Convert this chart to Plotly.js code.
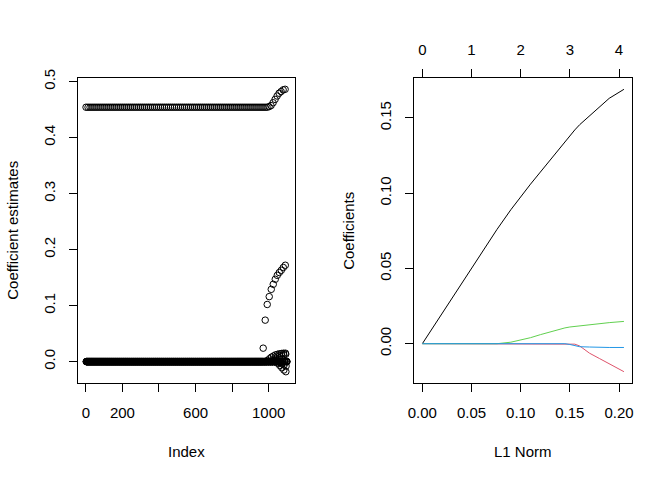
<!DOCTYPE html>
<html>
<head>
<meta charset="utf-8">
<script src="https://cdn.plot.ly/plotly-3.0.1.min.js"></script>
<style>
  html, body { margin: 0; padding: 0; background: #fff; }
  #myDiv { width: 672px; height: 480px; }
</style>
</head>
<body>
<div id="myDiv"></div>
<script>
// left panel: coefficient matrix (intercept + 10 coefs) x 100 lambdas, flattened column-wise
const nRows = 11;
const nCols = 100;
const interceptFlat = 0.454;          // cols 1..91
const interceptTail = [0.455, 0.457, 0.462, 0.468, 0.474, 0.479, 0.482, 0.485, 0.486];   // cols 92..100
const coef1Tail = [0.024, 0.074, 0.102, 0.116, 0.129, 0.138, 0.147, 0.154, 0.159, 0.163, 0.168, 0.172]; // cols 89..100
const coef2Tail = [0.002, 0.005, 0.008, 0.010, 0.012, 0.013, 0.014, 0.0145, 0.015, 0.015];  // cols 91..100
const coef3Tail = [0.003, 0.006, 0.008, 0.010, 0.011, 0.012, 0.013];                         // cols 94..100
const coef4Tail = [-0.003, -0.007, -0.011, -0.015, -0.018];                                  // cols 96..100
const coef5Tail = [-0.002, -0.004, -0.006, -0.008];                                          // cols 97..100

// right panel: lasso path
const l1Norm    = [0, 0.02, 0.04, 0.06, 0.076, 0.09, 0.10, 0.11, 0.12, 0.13, 0.14, 0.145, 0.15, 0.155, 0.16, 0.17, 0.18, 0.19, 0.205];
const coefBlack = [0, 0.02, 0.04, 0.06, 0.076, 0.089, 0.0977, 0.106, 0.114, 0.122, 0.130, 0.1345, 0.1387, 0.142, 0.1455, 0.1515, 0.157, 0.163, 0.169];
const coefRed   = [0, 0, 0, 0, 0, 0, 0, 0, 0, 0, 0, 0, 0, -0.0003, -0.0015, -0.0063, -0.0098, -0.0134, -0.0186];
const coefGreen = [0, 0, 0, 0, 0, 0.001, 0.0023, 0.004, 0.006, 0.008, 0.0098, 0.0105, 0.0111, 0.0115, 0.0118, 0.0125, 0.0133, 0.014, 0.0148];
const coefBlue  = [0, 0, 0, 0, 0, 0, 0, 0, 0, 0, 0, 0, -0.0005, -0.0015, -0.002, -0.0022, -0.0025, -0.0025, -0.0025];
const dfLabels  = ['0', '1', '2', '3', '4'];
const l1Ticks   = [0, 0.05, 0.10, 0.15, 0.20];

function tailValue(tail, col) {
    let start = nCols - tail.length + 1;
    return col >= start ? tail[col - start] : 0;
}

function buildMatrix() {
    let vals = [];
    for (let col = 1; col <= nCols; col++) {
        let column = new Array(nRows).fill(0);
        column[0] = col < nCols - interceptTail.length + 1 ? interceptFlat : tailValue(interceptTail, col);
        column[1] = tailValue(coef1Tail, col);
        column[2] = tailValue(coef2Tail, col);
        column[3] = tailValue(coef3Tail, col);
        column[4] = tailValue(coef4Tail, col);
        column[5] = tailValue(coef5Tail, col);
        vals.push(...column);
    }
    return vals;
}

// R-style range, 4% padding
function padRange(arr) {
    let lo = Math.min(...arr), hi = Math.max(...arr);
    let d = (hi - lo) * 0.04;
    return [lo - d, hi + d];
}

const estimates = buildMatrix();
const index = estimates.map((v, i) => i + 1);
const allCoefs = coefBlack.concat(coefRed, coefGreen, coefBlue);

const font = {family: 'Liberation Sans, Arial, sans-serif', size: 15, color: '#000'};

const boxAxis = {
    showline: true, mirror: true, linecolor: '#000', linewidth: 1,
    ticks: 'outside', ticklen: 8, tickcolor: '#000', tickwidth: 1,
    showgrid: false, zeroline: false, tickfont: font,
    ticklabelstandoff: 8
};

function line(y, color) {
    return {
        x: l1Norm, y: y, xaxis: 'x2', yaxis: 'y2',
        mode: 'lines', line: {color: color, width: 1}, hoverinfo: 'skip'
    };
}

const data = [
    {
        x: index, y: estimates, mode: 'markers',
        marker: {symbol: 'circle-open', size: 6.5, color: '#000', line: {width: 1, color: '#000'}},
        hoverinfo: 'skip'
    },
    line(coefBlack, '#000000'),
    line(coefRed, '#DF536B'),
    line(coefGreen, '#61D04F'),
    line(coefBlue, '#2297E6'),
    {x: l1Ticks, y: l1Ticks.map(() => null), xaxis: 'x3', yaxis: 'y2', mode: 'markers', hoverinfo: 'skip'}
];

function axisTitle(text, x, y, angle, xshift, yshift) {
    return {
        text: text, xref: 'paper', yref: 'paper', x: x, y: y,
        xanchor: 'center', yanchor: 'middle', textangle: angle,
        xshift: xshift, yshift: yshift, showarrow: false, font: font
    };
}

const layout = {
    width: 672, height: 480,
    margin: {l: 78, r: 40, t: 78, b: 97},
    paper_bgcolor: '#fff', plot_bgcolor: '#fff',
    showlegend: false,
    font: font,
    xaxis: Object.assign({}, boxAxis, {
        domain: [0, 0.3917], range: padRange(index), anchor: 'y',
        tickmode: 'array', tickvals: [0, 200, 400, 600, 800, 1000],
        ticktext: ['0', '200', '', '600', '', '1000']
    }),
    yaxis: Object.assign({}, boxAxis, {
        range: padRange(estimates), anchor: 'x', tickangle: -90,
        tickmode: 'array', tickvals: [0, 0.1, 0.2, 0.3, 0.4, 0.5],
        ticktext: ['0.0', '0.1', '0.2', '0.3', '0.4', '0.5']
    }),
    xaxis2: Object.assign({}, boxAxis, {
        domain: [0.607, 1], range: padRange(l1Norm), anchor: 'y2',
        tickmode: 'array', tickvals: l1Ticks,
        ticktext: ['0.00', '0.05', '0.10', '0.15', '0.20']
    }),
    yaxis2: Object.assign({}, boxAxis, {
        range: padRange(allCoefs), anchor: 'x2', tickangle: -90,
        tickmode: 'array', tickvals: [0, 0.05, 0.10, 0.15],
        ticktext: ['0.00', '0.05', '0.10', '0.15']
    }),
    xaxis3: Object.assign({}, boxAxis, {
        overlaying: 'x2', side: 'top', anchor: 'y2', showline: false,
        range: padRange(l1Norm), tickmode: 'array', tickvals: l1Ticks, ticktext: dfLabels
    }),
    annotations: [
        axisTitle('Index', 0.196, 0, 0, 0, -68),
        axisTitle('L1 Norm', 0.803, 0, 0, 0, -68),
        axisTitle('Coefficient estimates', -0.1186, 0.5, -90, 0, 0),
        axisTitle('Coefficients', 0.488, 0.5, -90, 0, 0)
    ]
};

Plotly.newPlot('myDiv', data, layout, {staticPlot: true, displayModeBar: false});
</script>
</body>
</html>
